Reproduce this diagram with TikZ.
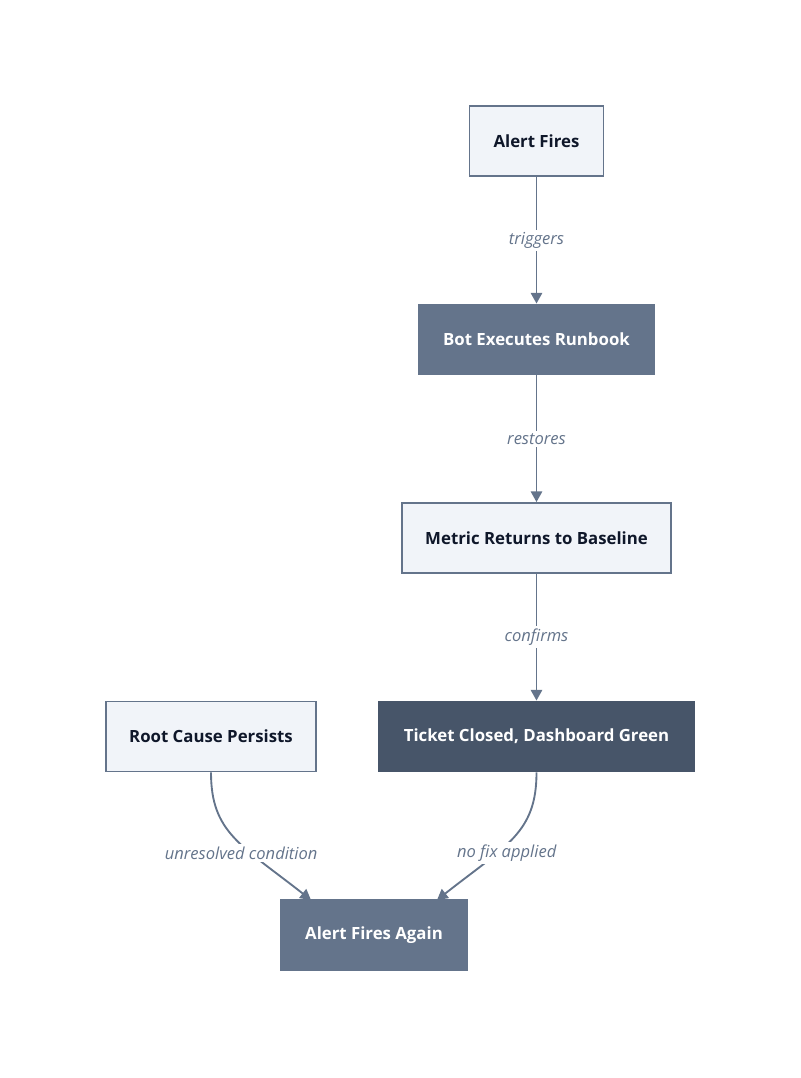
\documentclass[tikz,border=0pt]{standalone}
\usepackage{fontspec}
\setmainfont{Open Sans}
\usepackage{xcolor}
\definecolor{flowline}{HTML}{64748B}
\definecolor{flowlight}{HTML}{F1F4F9}
\definecolor{flowmid}{HTML}{64748B}
\definecolor{flowdark}{HTML}{475569}
\definecolor{flowtext}{HTML}{0F172A}
\usetikzlibrary{arrows.meta,positioning}

\begin{document}
\begin{tikzpicture}[x=0.75pt, y=-0.75pt,
  lightbox/.style={draw=flowline, fill=flowlight, line width=1.4pt,
              minimum height=52.5pt, inner sep=0pt,
              font=\fontsize{12.6}{15}\selectfont\bfseries\color{flowtext}},
  midbox/.style={lightbox, draw=flowmid, fill=flowmid,
              font=\fontsize{12.6}{15}\selectfont\bfseries\color{white}},
  darkbox/.style={lightbox, draw=flowdark, fill=flowdark,
              font=\fontsize{12.6}{15}\selectfont\bfseries\color{white}},
  rel/.style={draw=flowline, line width=1.4pt,
              -{Triangle[length=8pt,width=8.5pt]}},
  lab/.style={fill=white, inner sep=2pt,
              font=\fontsize{12.4}{15}\selectfont\itshape\color{flowline}}
]
  \useasboundingbox (0,0) rectangle (800,1078);

  \node[lightbox, minimum width=100.5pt]   (alert)  at (536.5,141)   {Alert Fires};
  \node[midbox,   minimum width=176.25pt]  (bot)    at (536.5,339.5) {Bot Executes Runbook};
  \node[lightbox, minimum width=201.75pt]  (metric) at (536.5,538) {Metric Returns to Baseline};
  \node[darkbox,  minimum width=236.25pt]  (ticket) at (536.5,736.5) {Ticket Closed, Dashboard Green};
  \node[lightbox, minimum width=157.5pt]   (root)   at (211,736.5) {Root Cause Persists};
  \node[midbox,   minimum width=139.5pt]   (again)  at (374,935)   {Alert Fires Again};

  \coordinate (againL) at (311,900);
  \coordinate (againR) at (437,900);

  \draw[rel] (alert)  -- node[lab]{triggers} (bot);
  \draw[rel] (bot)    -- node[lab]{restores} (metric);
  \draw[rel] (metric) -- node[lab]{confirms} (ticket);

  \draw[rel] (root.south) .. controls +(0,60) and +(-70,-55) .. (againL)
    node[lab, pos=0.64, xshift=-7pt]{unresolved condition};
  \draw[rel] (ticket.south) .. controls +(0,60) and +(70,-55) .. (againR)
    node[lab, pos=0.64, xshift=7pt]{no fix applied};

\end{tikzpicture}
\end{document}
